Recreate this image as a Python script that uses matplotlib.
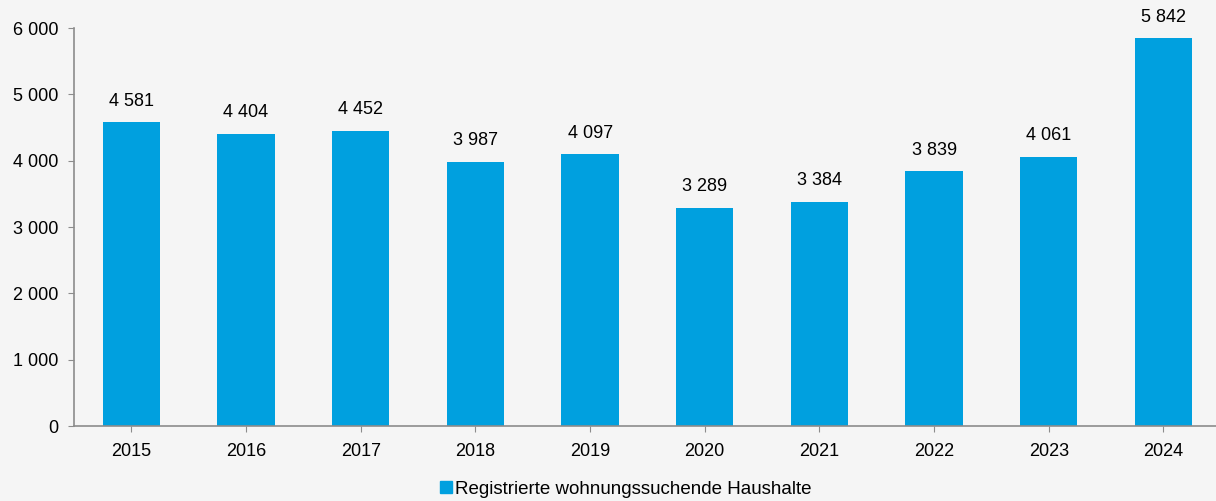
import matplotlib as mpl
import matplotlib.pyplot as plt
from matplotlib.ticker import FuncFormatter
from matplotlib.lines import Line2D

mpl.rcParams['font.family'] = ['Liberation Sans', 'DejaVu Sans']

years = ['2015', '2016', '2017', '2018', '2019', '2020', '2021', '2022', '2023', '2024']
haushalte = [4581, 4404, 4452, 3987, 4097, 3289, 3384, 3839, 4061, 5842]
series_name = 'Registrierte wohnungssuchende Haushalte'

BG = '#f5f5f5'
BLUE = '#00a0df'
GREY = '#8c8c8c'


def fmt(v):
    # thousands separated by a space
    return '{:,.0f}'.format(v).replace(',', ' ')


fig = plt.figure(figsize=(12.16, 5.01), dpi=100, facecolor=BG)
ax = fig.add_axes([0.0609, 0.1497, 0.943, 0.7944], facecolor=BG)

x = range(len(years))
ax.bar(x, haushalte, width=0.5, color=BLUE, zorder=2)

for i, v in enumerate(haushalte):
    ax.annotate(fmt(v), (i, v), xytext=(0, 9), textcoords='offset points',
                ha='center', va='bottom', fontsize=13, color='#000000')

ax.set_xlim(-0.5, len(years) - 0.5)
ax.set_ylim(0, 6000)
ax.set_yticks(range(0, 6001, 1000))
ax.yaxis.set_major_formatter(FuncFormatter(lambda v, p: fmt(v)))
ax.set_xticks(list(x))
ax.set_xticklabels(years)

for s in ['top', 'right']:
    ax.spines[s].set_visible(False)
for s in ['left', 'bottom']:
    ax.spines[s].set_color(GREY)
    ax.spines[s].set_linewidth(1.2)

ax.tick_params(axis='y', direction='out', length=4, color=GREY, labelsize=13, pad=7)
ax.tick_params(axis='x', direction='out', length=4, color=GREY, labelsize=13, pad=8)

handle = Line2D([], [], marker='s', linestyle='none', color=BLUE, markersize=8)
fig.legend([handle], [series_name], loc='center', bbox_to_anchor=(0.513, 0.024),
           frameon=False, fontsize=13.5, handletextpad=0.0, handlelength=1.0)

fig.savefig('out.png', dpi=100, facecolor=BG)
